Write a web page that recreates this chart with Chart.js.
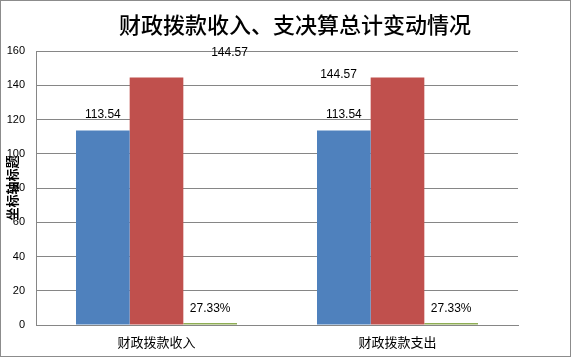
<!DOCTYPE html>
<html><head><meta charset="utf-8">
<script src="https://cdn.jsdelivr.net/npm/chart.js@4.4.1/dist/chart.umd.min.js"></script>
<style>html,body{margin:0;padding:0;background:#fff;}#wrap{width:571px;height:357px;position:relative;}</style>
</head><body><div id="wrap"><canvas id="c" width="571" height="357"></canvas></div>
<script>
// ---- data ----
const categories = ['财政拨款收入', '财政拨款支出'];
const blueValues = [113.54, 113.54];
const redValues = [144.57, 144.57];
const greenValues = [0.2733, 0.2733];
const blueLabels = ['113.54', '113.54'];
const redLabels = ['144.57', '144.57'];
const greenLabels = ['27.33%', '27.33%'];
const yTickValues = [0, 20, 40, 60, 80, 100, 120, 140, 160];
const chartTitle = '财政拨款收入、支决算总计变动情况';
const yAxisTitle = '坐标轴标题';

// ---- label placement (pixel offsets from bar top), kept apart from data ----
const labelOffsets = [
  [[0, -15.5], [0, -15.5]],
  [[73, -24.5], [-59, -2.5]],
  [[0, -14.5], [0, -14.5]]
];
const labelTexts = [blueLabels, redLabels, greenLabels];

const decorPlugin = {
  id: 'decor',
  beforeDraw(chart) {
    const ctx = chart.ctx;
    ctx.save();
    ctx.fillStyle = '#fff';
    ctx.fillRect(0, 0, chart.width, chart.height);
    ctx.restore();
  },
  afterDraw(chart) {
    const ctx = chart.ctx;
    const a = chart.chartArea;
    ctx.save();
    ctx.strokeStyle = '#8c8c8c';
    ctx.lineWidth = 1;
    ctx.strokeRect(0.5, 0.5, chart.width - 1, chart.height - 1);
    // title
    ctx.fillStyle = '#000';
    ctx.font = '500 22px "Noto Sans CJK SC"';
    ctx.textAlign = 'center';
    ctx.textBaseline = 'middle';
    ctx.fillText(chartTitle, 295, 25);
    // y-axis title (rotated)
    ctx.translate(12, (a.top + a.bottom) / 2);
    ctx.rotate(-Math.PI / 2);
    ctx.font = 'bold 13px "Noto Sans CJK SC"';
    ctx.fillText(yAxisTitle, 0, 0);
    ctx.restore();
  },
  afterDatasetsDraw(chart) {
    const ctx = chart.ctx;
    ctx.save();
    ctx.fillStyle = '#000';
    ctx.font = '12px "Liberation Sans"';
    ctx.textAlign = 'center';
    ctx.textBaseline = 'middle';
    chart.data.datasets.forEach((ds, i) => {
      const meta = chart.getDatasetMeta(i);
      meta.data.forEach((el, j) => {
        const off = labelOffsets[i][j];
        ctx.fillText(labelTexts[i][j], el.x + off[0], el.y + off[1]);
      });
    });
    ctx.restore();
  }
};

new Chart(document.getElementById('c'), {
  type: 'bar',
  data: {
    labels: categories,
    datasets: [
      { label: 'A', data: blueValues, backgroundColor: '#4F81BD' },
      { label: 'B', data: redValues, backgroundColor: '#C0504D' },
      { label: 'C', data: greenValues, backgroundColor: '#8FAE55', minBarLength: 2 }
    ]
  },
  options: {
    responsive: false,
    animation: false,
    devicePixelRatio: 1,
    categoryPercentage: 0.668,
    barPercentage: 1,
    layout: { padding: { top: 51, right: 53, left: 0, bottom: 0 } },
    plugins: { legend: { display: false }, title: { display: false }, tooltip: { enabled: false } },
    scales: {
      x: {
        grid: { display: false, drawTicks: false },
        border: { display: true, color: '#868686', width: 1 },
        ticks: { color: '#000', padding: 9, font: { family: '"Noto Sans CJK SC"', size: 13 } },
        afterFit(s) { s.height = 32; }
      },
      y: {
        min: 0, max: 160,
        afterBuildTicks(s) { s.ticks = yTickValues.map(v => ({ value: v })); },
        grid: { color: '#868686', drawTicks: false, lineWidth: 1 },
        border: { display: true, color: '#868686', width: 1 },
        ticks: { color: '#000', padding: 11, font: { family: '"Liberation Sans"', size: 11 } },
        afterFit(s) { s.width = 36; }
      }
    }
  },
  plugins: [decorPlugin]
});
</script></body></html>
